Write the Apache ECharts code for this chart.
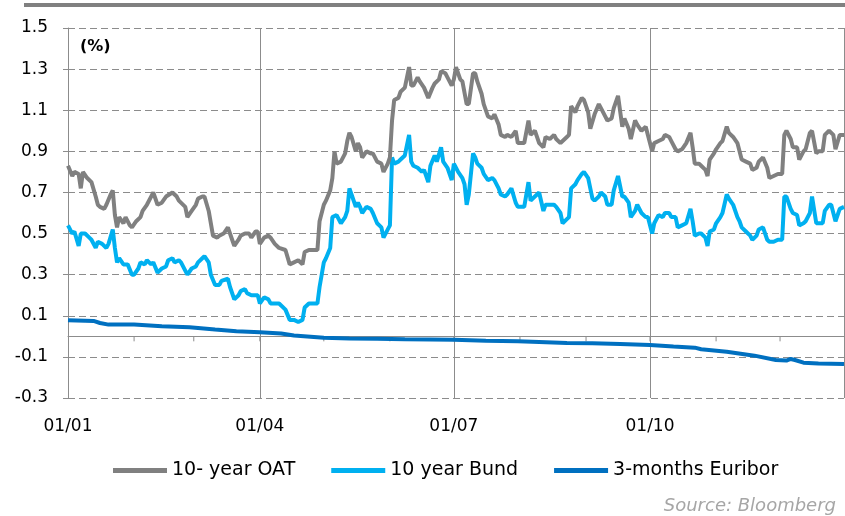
<!DOCTYPE html>
<html>
<head>
<meta charset="utf-8">
<title>10-year OAT, 10 year Bund, 3-months Euribor</title>
<script src="https://cdn.jsdelivr.net/npm/echarts@6/dist/echarts.min.js"></script>
<style>
  html, body { margin: 0; padding: 0; background: #fff; }
  #chart { width: 845px; height: 516px; }
</style>
</head>
<body>
<div id="chart"></div>
<script>
// x values are days counted from 01/01/2015
const oatDays = [0, 2, 3, 5, 6, 7, 9, 11, 13, 14, 15, 17, 18, 20, 21, 22, 23, 24, 26, 27, 29, 30, 32, 34, 35, 37, 39, 40, 42, 44,
  46, 49, 51, 52, 55, 56, 58, 60, 61, 63, 64, 66, 68, 70, 71, 73, 75, 77, 78, 80, 81, 83, 85, 86, 88, 89, 90, 92,
  94, 95, 97, 99, 102, 104, 106, 108, 110, 111, 113, 116, 117, 118, 120, 121, 123, 124, 125, 126, 128, 130, 131, 132, 133, 135,
  136, 137, 138, 140, 142, 143, 145, 147, 148, 150, 151, 152, 153, 155, 156, 158, 160, 161, 162, 164, 165, 167, 169, 171, 172, 174, 175, 177, 178, 180, 181,
  182, 184, 185, 187, 188, 190, 191, 192, 194, 195, 197, 199, 200, 202, 203, 205, 206, 208, 210, 211, 213, 214, 216, 217, 219, 220, 221, 223, 224, 226,
  228, 229, 231, 232, 234, 235, 236, 238, 239, 241, 242, 244, 245, 247, 249, 250, 252, 253, 255, 256, 258, 260, 261, 263, 264, 266, 267, 269, 271,
  272, 274, 275, 277, 279, 280, 282, 283, 285, 286, 288, 290, 292, 293, 294, 296, 297, 299, 300, 301, 303, 304, 306, 307, 309, 310, 312, 314,
  316, 318, 320, 321, 323, 324, 326, 328, 329, 331, 333, 335, 336, 337, 339, 340, 342, 343, 345, 346, 348, 349, 351, 352, 354, 355, 357, 359, 360, 362, 364];
const oatValues = [0.83, 0.78, 0.80, 0.79, 0.72, 0.80, 0.77, 0.75, 0.68, 0.64, 0.63, 0.62, 0.64, 0.69, 0.71, 0.59, 0.53, 0.58, 0.55, 0.58, 0.54, 0.53, 0.56, 0.58, 0.61, 0.64, 0.68, 0.70, 0.64, 0.65,
  0.68, 0.70, 0.68, 0.66, 0.63, 0.58, 0.61, 0.64, 0.67, 0.68, 0.68, 0.61, 0.49, 0.48, 0.49, 0.50, 0.53, 0.47, 0.44, 0.47, 0.49, 0.50, 0.50, 0.48, 0.51, 0.51, 0.45, 0.48,
  0.49, 0.48, 0.45, 0.43, 0.42, 0.35, 0.36, 0.37, 0.35, 0.41, 0.42, 0.42, 0.42, 0.56, 0.64, 0.66, 0.71, 0.77, 0.90, 0.84, 0.85, 0.89, 0.95, 0.99, 0.97, 0.90,
  0.94, 0.92, 0.87, 0.90, 0.89, 0.89, 0.85, 0.84, 0.80, 0.84, 0.87, 1.05, 1.15, 1.16, 1.19, 1.21, 1.31, 1.22, 1.22, 1.26, 1.24, 1.21, 1.16, 1.21, 1.23, 1.25, 1.29, 1.28, 1.26, 1.22, 1.25,
  1.31, 1.25, 1.24, 1.13, 1.13, 1.28, 1.28, 1.24, 1.18, 1.13, 1.07, 1.06, 1.08, 1.03, 0.98, 0.97, 0.98, 0.97, 1.00, 0.94, 0.94, 0.94, 1.05, 0.98, 1.00, 0.97, 0.94, 0.92, 0.97, 0.96,
  0.98, 0.96, 0.94, 0.95, 0.97, 0.98, 1.12, 1.09, 1.12, 1.16, 1.15, 1.09, 1.01, 1.08, 1.13, 1.11, 1.07, 1.05, 1.06, 1.11, 1.17, 1.02, 1.06, 1.01, 0.96, 1.05, 1.03, 1.00, 1.02,
  0.98, 0.90, 0.94, 0.95, 0.96, 0.98, 0.97, 0.95, 0.91, 0.90, 0.91, 0.94, 0.99, 0.92, 0.84, 0.84, 0.83, 0.81, 0.78, 0.86, 0.89, 0.91, 0.94, 0.95, 1.02, 0.99, 0.97, 0.94,
  0.86, 0.85, 0.84, 0.81, 0.82, 0.85, 0.87, 0.82, 0.77, 0.78, 0.79, 0.79, 0.98, 1.00, 0.96, 0.92, 0.92, 0.86, 0.90, 0.91, 0.99, 1.00, 0.89, 0.90, 0.90, 0.98, 1.00, 0.98, 0.91, 0.98, 0.98];

const bundDays = [0, 2, 3, 5, 6, 8, 10, 11, 13, 14, 16, 18, 19, 21, 22, 23, 24, 26, 28, 30, 31, 33, 34, 36, 37, 39, 40, 42, 44,
  46, 47, 49, 50, 52, 53, 55, 56, 58, 60, 61, 63, 64, 66, 67, 69, 71, 72, 75, 76, 78, 80, 81, 83, 84, 86, 88, 89, 90, 92,
  94, 95, 97, 99, 102, 104, 106, 108, 110, 111, 113, 116, 117, 118, 120, 121, 123, 124, 126, 128, 130, 131, 132, 133, 135,
  136, 137, 138, 140, 142, 143, 145, 147, 148, 150, 151, 152, 153, 155, 156, 158, 160, 161, 162, 164, 166, 167, 169, 170, 172, 173, 175, 176, 178, 180, 181,
  183, 185, 186, 187, 188, 190, 191, 192, 194, 195, 197, 199, 200, 202, 203, 205, 206, 208, 210, 211, 213, 214, 216, 217, 219, 221, 223, 224, 226,
  228, 229, 231, 232, 234, 235, 236, 238, 239, 241, 242, 244, 246, 247, 249, 250, 252, 253, 255, 256, 258, 260, 261, 263, 264, 266, 267, 269, 271,
  272, 274, 275, 277, 279, 280, 282, 283, 285, 286, 288, 290, 292, 293, 294, 296, 297, 299, 300, 301, 303, 304, 306, 307, 309, 310, 312, 314, 315,
  316, 318, 320, 321, 323, 324, 326, 328, 329, 331, 333, 335, 336, 337, 339, 340, 342, 343, 345, 346, 348, 349, 351, 352, 354, 355, 357, 358, 360, 362, 364];
const bundValues = [0.54, 0.50, 0.51, 0.44, 0.50, 0.50, 0.48, 0.47, 0.43, 0.46, 0.45, 0.43, 0.45, 0.52, 0.43, 0.36, 0.38, 0.35, 0.35, 0.30, 0.30, 0.33, 0.36, 0.35, 0.37, 0.35, 0.36, 0.31, 0.33,
  0.34, 0.37, 0.38, 0.36, 0.37, 0.36, 0.32, 0.30, 0.33, 0.34, 0.36, 0.38, 0.39, 0.36, 0.30, 0.25, 0.25, 0.27, 0.28, 0.24, 0.18, 0.20, 0.22, 0.23, 0.21, 0.20, 0.20, 0.20, 0.16, 0.19,
  0.18, 0.16, 0.16, 0.16, 0.13, 0.08, 0.08, 0.07, 0.08, 0.14, 0.16, 0.16, 0.16, 0.24, 0.36, 0.38, 0.43, 0.58, 0.59, 0.55, 0.58, 0.61, 0.72, 0.69, 0.63,
  0.65, 0.63, 0.60, 0.63, 0.62, 0.60, 0.55, 0.53, 0.48, 0.52, 0.54, 0.87, 0.84, 0.85, 0.86, 0.88, 0.98, 0.85, 0.83, 0.82, 0.80, 0.81, 0.75, 0.83, 0.88, 0.85, 0.92, 0.85, 0.82, 0.76, 0.84,
  0.80, 0.77, 0.74, 0.64, 0.69, 0.89, 0.87, 0.84, 0.82, 0.79, 0.76, 0.77, 0.76, 0.72, 0.69, 0.68, 0.69, 0.72, 0.65, 0.63, 0.63, 0.63, 0.75, 0.66, 0.68, 0.70, 0.61, 0.64, 0.64,
  0.64, 0.63, 0.60, 0.55, 0.57, 0.58, 0.72, 0.74, 0.76, 0.79, 0.80, 0.77, 0.67, 0.66, 0.68, 0.70, 0.68, 0.64, 0.64, 0.71, 0.78, 0.68, 0.68, 0.65, 0.58, 0.61, 0.64, 0.60, 0.58,
  0.58, 0.50, 0.55, 0.59, 0.58, 0.60, 0.60, 0.58, 0.58, 0.53, 0.54, 0.55, 0.62, 0.56, 0.49, 0.50, 0.50, 0.48, 0.44, 0.51, 0.52, 0.55, 0.58, 0.60, 0.69, 0.67, 0.64, 0.58, 0.56,
  0.53, 0.51, 0.49, 0.47, 0.49, 0.52, 0.53, 0.47, 0.46, 0.46, 0.47, 0.47, 0.68, 0.68, 0.62, 0.60, 0.59, 0.54, 0.55, 0.56, 0.60, 0.68, 0.55, 0.55, 0.55, 0.61, 0.64, 0.64, 0.56, 0.62, 0.63];

const euriborDays = [0, 12, 15, 19, 31, 44, 57, 69, 79, 90, 100, 106, 120, 132, 145, 158, 170, 181, 196, 211, 221, 234, 246, 259, 273,
  284, 294, 297, 309, 322, 332, 337, 339, 341, 345, 352, 364];
const euriborValues = [0.078, 0.075, 0.065, 0.057, 0.057, 0.049, 0.044, 0.033, 0.025, 0.020, 0.014, 0.004, -0.007, -0.010, -0.012, -0.014, -0.015, -0.017, -0.021, -0.024, -0.027, -0.032, -0.034, -0.037, -0.042,
  -0.050, -0.055, -0.063, -0.075, -0.094, -0.115, -0.118, -0.110, -0.115, -0.128, -0.132, -0.135];

const seriesNames = ['10- year OAT', '10 year Bund', '3-months Euribor'];
const seriesColors = ['#808080', '#00b0f0', '#0070c0'];
const quarterLabels = ['01/01', '01/04', '01/07', '01/10'];
const monthStarts = [31, 59, 90, 120, 151, 181, 212, 243, 273, 304, 334];

const DAY = 24 * 3600 * 1000;
function dayToTime(d) { return new Date(2015, 0, 1 + d).getTime(); }
function toPoints(days, values) {
  return days.map((d, i) => [dayToTime(d), values[i]]);
}
function pad(n) { return n < 10 ? '0' + n : '' + n; }

const xMin = dayToTime(0);
const xMax = dayToTime(364);
const font = 'DejaVu Sans';
const gray = '#8c8c8c';

const chart = echarts.init(document.getElementById('chart'));
const lineData = [toPoints(oatDays, oatValues), toPoints(bundDays, bundValues), toPoints(euriborDays, euriborValues)];

const lineSeries = seriesNames.map((name, i) => ({
  name: name,
  type: 'line',
  xAxisIndex: 0,
  data: lineData[i],
  showSymbol: false,
  symbol: 'none',
  z: 3 - i,
  color: seriesColors[i],
  lineStyle: { color: seriesColors[i], width: 4 }
}));

// small month ticks hanging under the zero line
const monthTickSeries = {
  type: 'custom',
  xAxisIndex: 0,
  silent: true,
  z: 1,
  data: monthStarts.map(d => [dayToTime(d), 0]),
  renderItem: function (params, api) {
    const p = api.coord([api.value(0), api.value(1)]);
    return {
      type: 'line',
      shape: { x1: p[0], y1: p[1], x2: p[0], y2: p[1] + 5 },
      style: { stroke: gray, lineWidth: 1 }
    };
  }
};

chart.setOption({
  animation: false,
  backgroundColor: '#fff',
  textStyle: { fontFamily: font },
  grid: { left: 68, right: 1, top: 28, bottom: 118, containLabel: false },
  legend: {
    data: seriesNames,
    left: 108,
    top: 456,
    icon: 'rect',
    itemWidth: 54,
    itemHeight: 5,
    itemGap: 36,
    textStyle: { fontSize: 19, color: '#000', fontFamily: font }
  },
  xAxis: [
    {
      // quarter labels + vertical grid lines
      type: 'time',
      min: xMin,
      max: xMax,
      minInterval: 91 * DAY,
      maxInterval: 92 * DAY,
      axisLine: { show: false, onZero: false },
      axisTick: { show: false },
      axisLabel: {
        fontSize: 17,
        color: '#000',
        margin: 20,
        formatter: function (val) {
          const d = new Date(val);
          const s = pad(d.getDate()) + '/' + pad(d.getMonth() + 1);
          return quarterLabels.indexOf(s) >= 0 ? s : '';
        }
      },
      splitLine: { show: true, lineStyle: { color: gray, width: 1, type: 'solid' } }
    },
    {
      // horizontal axis line drawn on zero
      type: 'time',
      position: 'bottom',
      min: xMin,
      max: xMax,
      axisLine: { show: true, onZero: true, lineStyle: { color: gray, width: 1 } },
      axisTick: { show: false },
      axisLabel: { show: false },
      splitLine: { show: false }
    }
  ],
  yAxis: {
    type: 'value',
    min: -0.3,
    max: 1.5,
    interval: 0.2,
    axisLine: { show: true, lineStyle: { color: gray, width: 1 } },
    axisTick: { show: true, length: 5, lineStyle: { color: gray } },
    axisLabel: {
      fontSize: 17,
      color: '#000',
      margin: 20,
      formatter: function (v) { return v.toFixed(1); }
    },
    splitLine: { show: true, lineStyle: { color: gray, width: 1, type: [7, 4] } }
  },
  graphic: [
    { type: 'rect', left: 24, top: 3, shape: { width: 821, height: 4 }, style: { fill: '#808080' }, silent: true },
    { type: 'text', left: 80, top: 39, style: { text: '(%)', font: 'bold 16px "DejaVu Sans"', fill: '#000' }, silent: true },
    { type: 'text', right: 9, top: 497, style: { text: 'Source: Bloomberg', font: 'italic 18px "DejaVu Sans"', fill: '#a6a6a6' }, silent: true }
  ],
  series: lineSeries.concat([monthTickSeries])
});
</script>
</body>
</html>
